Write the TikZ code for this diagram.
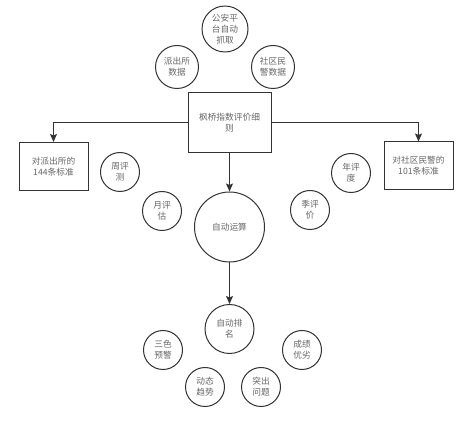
\documentclass[tikz,border=0pt]{standalone}
\usepackage{fontspec}
\newfontfamily\cjk{Noto Sans CJK SC}
\usetikzlibrary{arrows.meta, positioning}

\begin{document}
\begin{tikzpicture}[
    x=1pt, y=-1pt,
    every node/.style={font=\cjk\fontsize{8.7}{11}\selectfont, text=black!60, align=center},
    box/.style={draw=black!80, line width=1pt, inner sep=0pt},
    bubble/.style={draw=black!80, line width=1pt, circle, inner sep=0pt, minimum size=39pt},
    arrow/.style={-{Stealth[length=8pt, width=7pt, inset=1.5pt]}, line width=1pt, draw=black!80}
]
\useasboundingbox (0,0) rectangle (464,422);

% --- 数据来源 ---
\node[bubble, minimum size=46pt] (police) at (225,29) {公安平\\台自动\\抓取};
\node[bubble, minimum size=43pt] (pcsdata) at (177,67) {派出所\\数据};
\node[bubble, minimum size=43pt] (cpodata) at (273,67) {社区民\\警数据};

% --- 细则与标准 ---
\node[box, minimum width=83pt, minimum height=60pt] (rule) at (229.5,123) {枫桥指数评价细\\则};
\node[box, minimum width=69pt, minimum height=48pt] (pcs) at (53.5,166.5) {对派出所的\\144条标准};
\node[box, minimum width=69pt, minimum height=48pt] (cpo) at (418.5,166) {对社区民警的\\101条标准};
\draw[arrow] (rule.west) -| (pcs.north);
\draw[arrow] (rule.east) -| (cpo.north);

% --- 评价周期 ---
\node[bubble] (week) at (120,172) {周评\\测};
\node[bubble] (month) at (162,211) {月评\\估};
\node[bubble] (year) at (351,173) {年评\\度};
\node[bubble] (quarter) at (310,210) {季评\\价};

% --- 运算与排名 ---
\node[bubble, minimum size=70pt] (calc) at (229.5,227) {自动运算};
\node[bubble, minimum size=49pt] (rank) at (229.5,329) {自动排\\名};
\draw[arrow] (rule) -- (calc);
\draw[arrow] (calc) -- (rank);

% --- 结果 ---
\node[bubble] (color) at (163,350) {三色\\预警};
\node[bubble] (grade) at (302,350) {成绩\\优劣};
\node[bubble] (trend) at (205,387) {动态\\趋势};
\node[bubble] (issue) at (261,387) {突出\\问题};
\end{tikzpicture}
\end{document}
